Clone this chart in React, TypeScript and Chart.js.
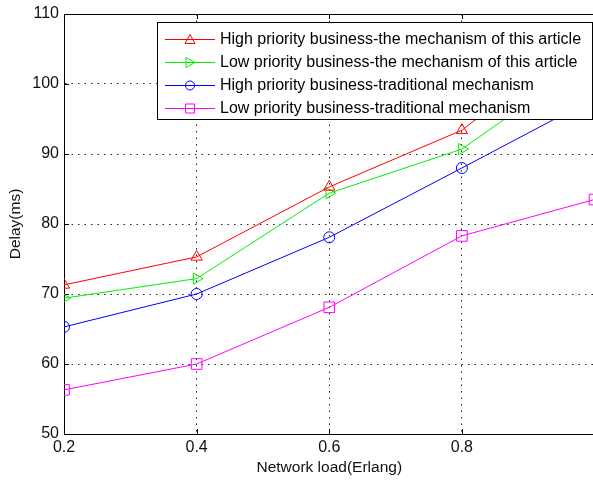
import React, { useEffect, useRef } from 'react';
import { Chart, registerables } from 'chart.js';

Chart.register(...registerables);

const loads = [0.2, 0.4, 0.6, 0.8, 1.0];
const highArticle = [71.3, 75.3, 85.3, 93.4, 108];
const lowArticle = [69.4, 72.2, 84.4, 90.7, 104];
const highTraditional = [65.3, 70, 78.1, 88, 98];
const lowTraditional = [56.3, 60, 68.1, 78.3, 83.5];

const seriesLabels = [
  'High priority business-the mechanism of this article',
  'Low priority business-the mechanism of this article',
  'High priority business-traditional mechanism',
  'Low priority business-traditional mechanism',
];
const seriesColors = ['#ff0000', '#00ee00', '#0000ff', '#ff00ff'];
const seriesMarkers = ['triangle', 'triangleRight', 'circle', 'rect'];

const xTitle = 'Network load(Erlang)';
const yTitle = 'Delay(ms)';

const FONT = "'Liberation Sans', Arial, sans-serif";

function drawMarker(ctx: CanvasRenderingContext2D, kind: string, x: number, y: number) {
  ctx.beginPath();
  if (kind === 'triangle') {
    ctx.moveTo(x, y - 5);
    ctx.lineTo(x + 5, y + 4);
    ctx.lineTo(x - 5, y + 4);
    ctx.closePath();
  } else if (kind === 'triangleRight') {
    ctx.moveTo(x + 5, y);
    ctx.lineTo(x - 4, y + 5);
    ctx.lineTo(x - 4, y - 5);
    ctx.closePath();
  } else if (kind === 'circle') {
    ctx.arc(x, y, 4.5, 0, Math.PI * 2);
  } else {
    ctx.rect(x - 4.5, y - 4.5, 9, 9);
  }
  ctx.stroke();
}

const framePlugin = {
  id: 'matlabFrame',
  beforeDatasetsDraw(chart: any) {
    const { ctx, chartArea } = chart;
    const xs = chart.scales.x;
    const ys = chart.scales.y;
    ctx.save();
    ctx.strokeStyle = '#000';
    ctx.lineWidth = 1;
    ctx.beginPath();
    ctx.moveTo(chartArea.left, chartArea.top + 0.5);
    ctx.lineTo(chartArea.right, chartArea.top + 0.5);
    xs.ticks.forEach((t: any) => {
      const px = Math.round(xs.getPixelForValue(t.value)) + 0.5;
      ctx.moveTo(px, chartArea.bottom);
      ctx.lineTo(px, chartArea.bottom - 5);
      ctx.moveTo(px, chartArea.top);
      ctx.lineTo(px, chartArea.top + 5);
    });
    ys.ticks.forEach((t: any) => {
      const py = Math.round(ys.getPixelForValue(t.value)) + 0.5;
      ctx.moveTo(chartArea.left, py);
      ctx.lineTo(chartArea.left + 5, py);
    });
    ctx.stroke();
    ctx.restore();
  },
  afterDraw(chart: any) {
    const { ctx } = chart;
    const boxL = 157.5, boxT = 22.5, boxW = 435, boxH = 97;
    ctx.save();
    ctx.fillStyle = '#fff';
    ctx.fillRect(boxL, boxT, boxW, boxH);
    ctx.strokeStyle = '#000';
    ctx.lineWidth = 1;
    ctx.strokeRect(boxL, boxT, boxW, boxH);
    ctx.font = `16px ${FONT}`;
    ctx.textBaseline = 'middle';
    ctx.textAlign = 'left';
    chart.data.datasets.forEach((ds: any, i: number) => {
      const y = 39 + i * 23;
      ctx.strokeStyle = seriesColors[i];
      ctx.lineWidth = 1;
      ctx.beginPath();
      ctx.moveTo(165, y + 0.5);
      ctx.lineTo(215, y + 0.5);
      ctx.stroke();
      drawMarker(ctx, seriesMarkers[i], 190, y + 0.5);
      ctx.fillStyle = '#000';
      ctx.fillText(ds.label, 220, y + 1);
    });
    ctx.restore();
  },
};

export default function App() {
  const ref = useRef<HTMLCanvasElement | null>(null);

  useEffect(() => {
    if (!ref.current) return;
    const seriesData = [highArticle, lowArticle, highTraditional, lowTraditional];
    const pointStyles: any[] = ['triangle', 'triangle', 'circle', 'rect'];
    const rotations = [0, 90, 0, 0];
    const radii = [6.5, 6.5, 5.5, 7.5];
    const chart = new Chart(ref.current, {
      type: 'line',
      data: {
        datasets: seriesData.map((arr, i) => ({
          label: seriesLabels[i],
          data: loads.map((x, j) => ({ x, y: arr[j] })),
          borderColor: seriesColors[i],
          backgroundColor: 'rgba(0,0,0,0)',
          borderWidth: 1,
          pointStyle: pointStyles[i],
          pointRotation: rotations[i],
          pointRadius: radii[i],
          pointBorderWidth: 1,
          pointBorderColor: seriesColors[i],
          pointBackgroundColor: 'rgba(0,0,0,0)',
          tension: 0,
        })),
      },
      plugins: [framePlugin],
      options: {
        animation: false,
        responsive: false,
        devicePixelRatio: 1,
        layout: { padding: { top: 14, right: 2, left: 0, bottom: 0 } },
        plugins: { legend: { display: false }, tooltip: { enabled: false } },
        scales: {
          x: {
            type: 'linear',
            min: 0.2,
            max: 1.0,
            afterFit: (s: any) => { s.height = 46; s.paddingLeft = 0; s.paddingRight = 0; },
            ticks: {
              stepSize: 0.2,
              font: { family: FONT, size: 16 },
              color: '#111',
              padding: 4,
              callback: (v: any) => {
                const n = Number(Number(v).toFixed(1));
                return n >= 1 ? '' : String(n);
              },
            },
            grid: {
              drawTicks: false,
              color: (c: any) => (c.index === 0 || c.index === 4 ? 'rgba(0,0,0,0)' : '#222'),
              lineWidth: 1,
            },
            border: { display: true, color: '#000', width: 1, dash: [1.5, 5] },
            title: {
              display: true,
              text: xTitle,
              font: { family: FONT, size: 15.5 },
              color: '#111',
              padding: { top: 0, bottom: 3 },
            },
          },
          y: {
            type: 'linear',
            min: 50,
            max: 110,
            afterFit: (s: any) => { s.width = 64; s.paddingTop = 0; s.paddingBottom = 0; },
            ticks: {
              stepSize: 10,
              font: { family: FONT, size: 16 },
              color: '#111',
              padding: 5,
            },
            grid: {
              drawTicks: false,
              color: (c: any) => (c.index === 0 || c.index === 6 ? 'rgba(0,0,0,0)' : '#222'),
              lineWidth: 1,
            },
            border: { display: true, color: '#000', width: 1, dash: [1.5, 5] },
            title: {
              display: true,
              text: yTitle,
              font: { family: FONT, size: 15.5 },
              color: '#111',
              padding: { top: 6, bottom: 0 },
            },
          },
        },
      },
    });
    return () => chart.destroy();
  }, []);

  return (
    <div style={{ position: 'absolute', left: 0, top: 0, width: 593, height: 480, overflow: 'hidden', background: '#fff' }}>
      <canvas ref={ref} width={603} height={480} style={{ display: 'block', width: 603, height: 480 }} />
    </div>
  );
}
